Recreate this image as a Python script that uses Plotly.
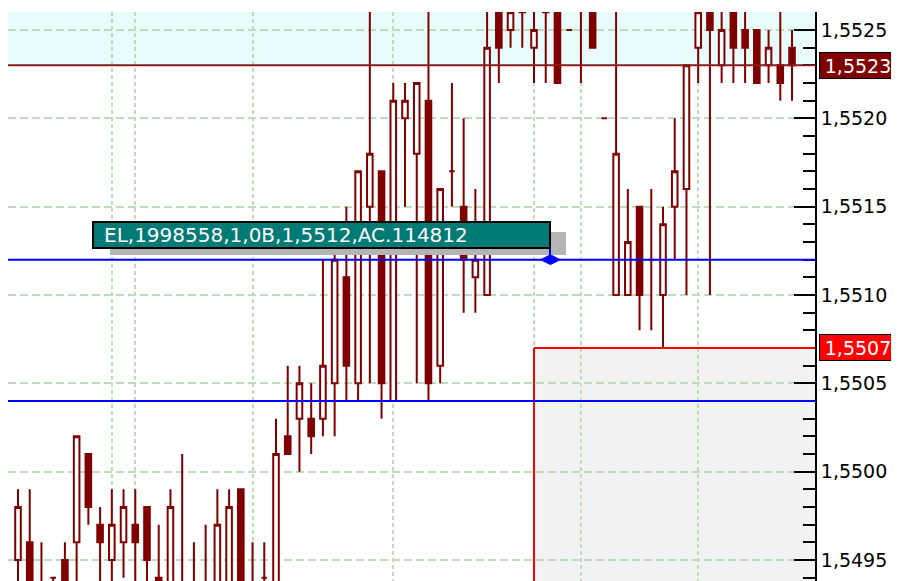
import plotly.graph_objects as go

# ---------------- data ----------------
bar_index = list(range(67))
open_ = [1.5495, 1.5496, 1.5493, 1.5494, 1.5495, 1.5496, 1.5501, 1.5497, 1.5495, 1.5496,
         1.5497, 1.5498, 1.5494, 1.5493, 1.5493, 1.5493, 1.5493, 1.5493, 1.5493, 1.5499,
         1.5493, 1.5494, 1.5493, 1.5502, 1.5503, 1.5503, 1.5503, 1.5505, 1.5511, 1.5505,
         1.5515, 1.5517, 1.5504, 1.5520, 1.5518, 1.5521, 1.5506, 1.5517, 1.5515, 1.5511,
         1.5510, 1.5526, 1.5525, 1.5527, 1.5524, 1.5526, 1.5527, 1.5525, 1.5527, 1.5526,
         1.5520, 1.5510, 1.5510, 1.5515, 1.5512, 1.5510, 1.5515, 1.5516, 1.5524, 1.5526,
         1.5523, 1.5526, 1.5525, 1.5525, 1.5523, 1.5523, 1.5524]
high = [1.5499, 1.5499, 1.5496, 1.5494, 1.5496, 1.5502, 1.5501, 1.5498, 1.5499, 1.5499,
        1.5499, 1.5498, 1.5497, 1.5499, 1.5501, 1.5496, 1.5497, 1.5499, 1.5499, 1.5499,
        1.5496, 1.5496, 1.5503, 1.5506, 1.5506, 1.5505, 1.5512, 1.5513, 1.5515, 1.5517,
        1.5527, 1.5517, 1.5522, 1.5522, 1.5522, 1.5527, 1.5516, 1.5522, 1.5520, 1.5516,
        1.5527, 1.5527, 1.5527, 1.5527, 1.5527, 1.5527, 1.5527, 1.5525, 1.5528, 1.5526,
        1.5520, 1.5527, 1.5516, 1.5515, 1.5516, 1.5515, 1.5520, 1.5523, 1.5527, 1.5527,
        1.5527, 1.5527, 1.5527, 1.5525, 1.5525, 1.5527, 1.5525]
low = [1.5492, 1.5492, 1.5491, 1.5492, 1.5492, 1.5493, 1.5497, 1.5493, 1.5493, 1.5494,
       1.5493, 1.5493, 1.5492, 1.5492, 1.5491, 1.5491, 1.5492, 1.5492, 1.5492, 1.5492,
       1.5491, 1.5493, 1.5492, 1.5501, 1.5500, 1.5501, 1.5502, 1.5502, 1.5504, 1.5504,
       1.5505, 1.5503, 1.5504, 1.5515, 1.5505, 1.5504, 1.5505, 1.5515, 1.5509, 1.5509,
       1.5510, 1.5522, 1.5524, 1.5524, 1.5522, 1.5522, 1.5522, 1.5525, 1.5522, 1.5524,
       1.5520, 1.5510, 1.5510, 1.5508, 1.5508, 1.5507, 1.5512, 1.5510, 1.5522, 1.5510,
       1.5522, 1.5522, 1.5522, 1.5522, 1.5522, 1.5521, 1.5521]
close = [1.5498, 1.5493, 1.5492, 1.5494, 1.5493, 1.5502, 1.5498, 1.5496, 1.5497, 1.5498,
         1.5496, 1.5495, 1.5493, 1.5498, 1.5492, 1.5492, 1.5493, 1.5497, 1.5498, 1.5493,
         1.5492, 1.5494, 1.5501, 1.5501, 1.5505, 1.5502, 1.5506, 1.5512, 1.5506, 1.5517,
         1.5518, 1.5505, 1.5521, 1.5521, 1.5522, 1.5505, 1.5516, 1.5517, 1.5512, 1.5512,
         1.5524, 1.5524, 1.5526, 1.5526, 1.5525, 1.5527, 1.5522, 1.5525, 1.5527, 1.5524,
         1.5520, 1.5518, 1.5513, 1.5510, 1.5512, 1.5514, 1.5517, 1.5523, 1.5526, 1.5525,
         1.5525, 1.5524, 1.5524, 1.5522, 1.5524, 1.5522, 1.5523]

grid_bars = [8, 10, 20, 32, 44, 48, 58]          # session separators
major_ticks = [1.5495, 1.5500, 1.5505, 1.5510, 1.5515, 1.5520, 1.5525]
major_labels = ["1,5495", "1,5500", "1,5505", "1,5510", "1,5515", "1,5520", "1,5525"]
minor_ticks = [1.5494, 1.5496, 1.5497, 1.5498, 1.5499, 1.5501, 1.5502, 1.5503, 1.5504,
               1.5506, 1.5507, 1.5508, 1.5509, 1.5511, 1.5512, 1.5513, 1.5514, 1.5516,
               1.5517, 1.5518, 1.5519, 1.5521, 1.5522, 1.5523, 1.5524, 1.5526]

last_price = 1.5523          # dark red level / label
stop_level = 1.5507          # red level / label
order_level = 1.5512         # blue order line
support_level = 1.5504       # blue line
zone_start_bar = 44          # grey zone starts here
order_bar = 45.4             # diamond marker position
order_text = "EL,1998558,1,0B,1,5512,AC.114812"

# ---------------- figure ----------------
# the page body has an 8px margin, so the figure starts at (8, 8) in the window
OFF = 8
W, H = 899 - OFF, 581 - OFF
ML, MR, MT, MB = 0, 84, 4, 0
PW, PH = W - ML - MR, H - MT - MB


def px(x, y):
    """window pixel -> paper coordinates"""
    return (x - OFF - ML) / PW, (OFF + H - MB - y) / PH


DARK = "#800000"
GRID = "#BCDCBC"
FONT = "DejaVu Sans"

fig = go.Figure()
fig.add_trace(go.Candlestick(
    x=bar_index, open=open_, high=high, low=low, close=close,
    increasing=dict(line=dict(color=DARK, width=2), fillcolor="white"),
    decreasing=dict(line=dict(color=DARK, width=2), fillcolor=DARK),
    whiskerwidth=0, hoverinfo="skip", showlegend=False,
))

fig.add_trace(go.Scatter(
    x=[order_bar], y=[order_level], mode="markers",
    marker=dict(symbol="diamond-wide", size=14, color="#0000FF",
                line=dict(color="#0000FF", width=1)),
    hoverinfo="skip", showlegend=False,
))

shapes = []
shapes.append(dict(type="rect", xref="paper", yref="y", x0=0, x1=1, y0=last_price, y1=1.5530,
                   fillcolor="#E8FCFC", line=dict(width=0), layer="below"))
shapes.append(dict(type="rect", xref="x", yref="y", x0=zone_start_bar, x1=80, y0=1.5490, y1=stop_level,
                   fillcolor="#F2F2F2", line=dict(width=0), layer="below"))
shapes.append(dict(type="line", xref="x", yref="y", x0=zone_start_bar, x1=zone_start_bar,
                   y0=1.5490, y1=stop_level, line=dict(color="#FF0000", width=2)))
shapes.append(dict(type="line", xref="x", yref="y", x0=zone_start_bar, x1=80,
                   y0=stop_level, y1=stop_level, line=dict(color="#FF0000", width=2)))
shapes.append(dict(type="line", xref="paper", yref="y", x0=0, x1=1, y0=last_price, y1=last_price,
                   line=dict(color="#8B1A1A", width=2)))
shapes.append(dict(type="line", xref="paper", yref="y", x0=0, x1=1, y0=order_level, y1=order_level,
                   line=dict(color="#0000FF", width=2)))
shapes.append(dict(type="line", xref="paper", yref="y", x0=0, x1=1, y0=support_level, y1=support_level,
                   line=dict(color="#0000FF", width=2)))

# tooltip (shadow + box + connector)
sx0, sy0 = px(110, 255)
sx1, sy1 = px(566, 232)
shapes.append(dict(type="rect", xref="paper", yref="paper", x0=sx0, y0=sy0, x1=sx1, y1=sy1,
                   fillcolor="#B4B4B4", line=dict(width=0)))
bx0, by0 = px(93, 248)
bx1, by1 = px(550, 222)
shapes.append(dict(type="line", xref="paper", yref="paper", x0=bx1, x1=bx1, y0=px(0, 260)[1], y1=by0,
                   line=dict(color="#0000FF", width=2)))
shapes.append(dict(type="rect", xref="paper", yref="paper", x0=bx0, y0=by0, x1=bx1, y1=by1,
                   fillcolor="#007A74", line=dict(color="black", width=2)))

fig.update_layout(shapes=shapes)

tx, ty = px(102, 235)
annotations = [
    dict(xref="paper", yref="paper", x=tx, y=ty, text=order_text, showarrow=False,
         xanchor="left", yanchor="middle",
         font=dict(family=FONT, size=20, color="white")),
    dict(xref="paper", yref="y", x=1, xshift=4, y=last_price, text="1,5523", showarrow=False,
         xanchor="left", yanchor="middle", bgcolor=DARK, bordercolor="black", borderwidth=1,
         width=74, height=23, font=dict(family=FONT, size=19, color="white")),
    dict(xref="paper", yref="y", x=1, xshift=4, y=stop_level, text="1,5507", showarrow=False,
         xanchor="left", yanchor="middle", bgcolor="#FF0000", bordercolor="black", borderwidth=1,
         width=74, height=23, font=dict(family=FONT, size=19, color="white")),
]
fig.update_layout(annotations=annotations)

fig.update_layout(
    width=W, height=H,
    margin=dict(l=ML, r=MR, t=MT, b=MB, autoexpand=False),
    paper_bgcolor="white", plot_bgcolor="white",
    boxgap=0.32,
    xaxis=dict(range=[-0.853, 67.96], rangeslider=dict(visible=False), showticklabels=False,
               tickmode="array", tickvals=grid_bars, ticks="", showgrid=True, gridcolor=GRID,
               griddash="4px,3px", gridwidth=2, zeroline=False, showline=False, fixedrange=True),
    yaxis=dict(range=[1.549381, 1.552602], side="right", tickmode="array",
               tickvals=major_ticks, ticktext=major_labels, ticks="inside", ticklen=21,
               tickwidth=2, tickcolor="black", showline=True, linecolor="black", linewidth=2,
               showgrid=True, gridcolor=GRID, griddash="8px,4px", gridwidth=1.5, zeroline=False,
               minor=dict(tickmode="array", tickvals=minor_ticks, ticks="inside", ticklen=12,
                          tickwidth=2, tickcolor="black", showgrid=False),
               tickfont=dict(family=FONT, size=19, color="black"), fixedrange=True,
               automargin=False),
)

fig.write_html("out.html")
